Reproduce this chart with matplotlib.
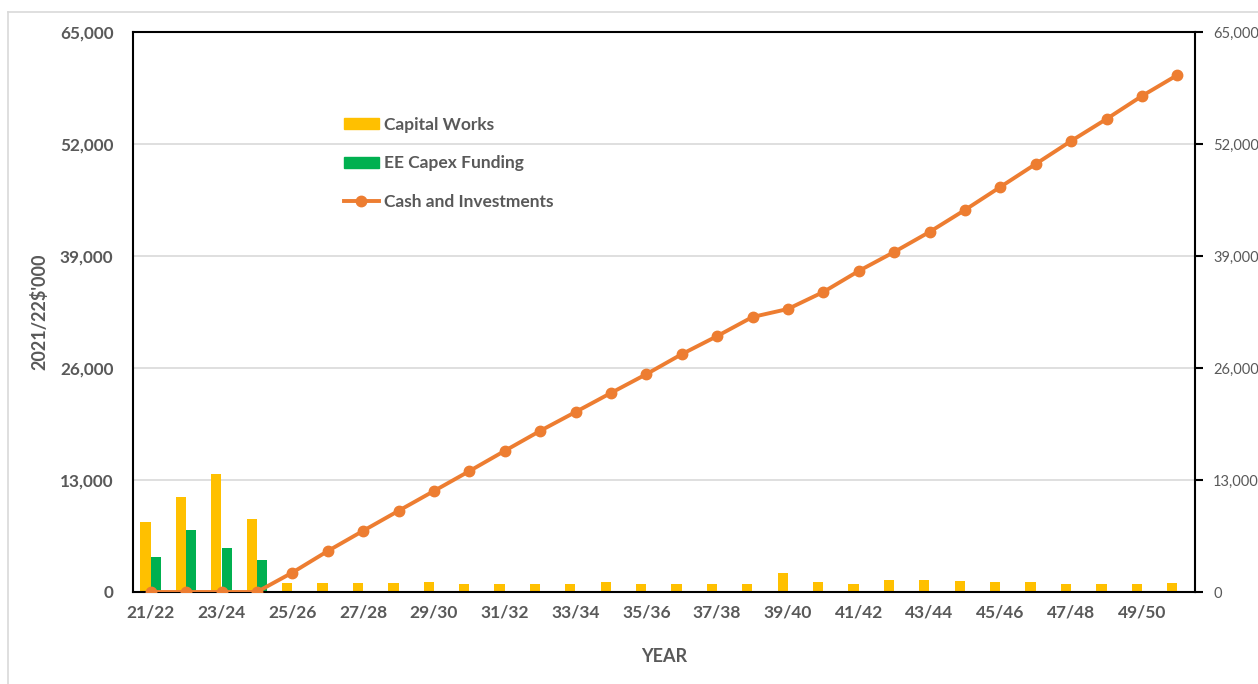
import matplotlib
matplotlib.use("Agg")
import matplotlib.pyplot as plt
from matplotlib.lines import Line2D
import numpy as np

# Financial years 2021/22 to 2050/51
years = [f"{y % 100:02d}/{(y + 1) % 100:02d}" for y in range(2021, 2051)]

capital_works = [8150, 11050, 13700, 8450, 1000, 1000, 1000, 1000, 1150, 950,
                 950, 950, 950, 1150, 950, 950, 950, 950, 2200, 1150,
                 950, 1350, 1350, 1250, 1150, 1150, 950, 950, 950, 1050]
ee_capex = [4100, 7250, 5150, 3700, 0, 0, 0, 0, 0, 0,
            0, 0, 0, 0, 0, 0, 0, 0, 0, 0,
            0, 0, 0, 0, 0, 0, 0, 0, 0, 0]
cash_investments = [0, 0, 0, 0, 2250, 4750, 7100, 9420, 11720, 14030,
                    16380, 18700, 20890, 23100, 25280, 27600, 29700, 31920, 32850, 34820,
                    37260, 39460, 41790, 44340, 47010, 49680, 52350, 54900, 57570, 60000]
y_ticks = [0, 13000, 26000, 39000, 52000, 65000]

YELLOW = "#FFC000"
GREEN = "#00B050"
ORANGE = "#ED7D31"
TEXT = "#595959"

plt.rcParams["font.family"] = ["Lato", "DejaVu Sans"]

fig = plt.figure(figsize=(12.58, 6.84), dpi=100)
ax = fig.add_axes([133 / 1258, 1 - 592 / 684, (1195 - 133) / 1258, (592 - 32) / 684])

x = np.arange(len(years))
w = 0.29
ax.bar(x - w / 2, capital_works, width=w, color=YELLOW, label="Capital Works", zorder=2)
ax.bar(x + w / 2, ee_capex, width=w, color=GREEN, label="EE Capex Funding", zorder=2)
ax.plot(x, cash_investments, color=ORANGE, lw=2.8, marker="o", ms=7.5,
        label="Cash and Investments", zorder=3, solid_capstyle="round")

ax.set_xlim(-0.5, len(years) - 0.5)
ax.set_ylim(0, 65000)
ax.set_yticks(y_ticks)
ax.set_yticklabels([f"{v:,}" for v in y_ticks], fontsize=12.3, fontweight="bold", color=TEXT)
ax.tick_params(axis="y", length=0, pad=14)
ax.set_xticks(x[::2])
ax.set_xticklabels(years[::2], fontsize=12.5, fontweight="bold", color=TEXT)
ax.tick_params(axis="x", length=0, pad=9)
ax.grid(axis="y", color="#D9D9D9", lw=1.2, zorder=0)
ax.set_axisbelow(True)
for s in ax.spines.values():
    s.set_color("black")
    s.set_linewidth(1.5)

ax.set_ylabel("2021/22$'000", fontsize=13, fontweight="bold", color=TEXT, labelpad=8)
ax.set_xlabel("YEAR", fontsize=13, fontweight="bold", color=TEXT, labelpad=20)

# secondary scale on the right
ax2 = ax.twinx()
ax2.set_ylim(0, 65000)
ax2.set_yticks(y_ticks)
ax2.set_yticklabels([f"{v:,}" for v in y_ticks], fontsize=10.5, color=TEXT)
ax2.tick_params(axis="y", direction="out", length=6, width=1.5, pad=7, colors="black",
                labelcolor=TEXT)
for s in ax2.spines.values():
    s.set_visible(False)

handles = [
    plt.Rectangle((0, 0), 1, 1, color=YELLOW),
    plt.Rectangle((0, 0), 1, 1, color=GREEN),
    Line2D([0], [0], color=ORANGE, lw=2.8, marker="o", ms=7.5),
]
labels = ["Capital Works", "EE Capex Funding", "Cash and Investments"]
leg = fig.legend(handles, labels, loc="upper left",
                 bbox_to_anchor=(344 / 1258, 1 - 117 / 684),
                 frameon=False, fontsize=12.5, handlelength=2.0, handleheight=0.6,
                 handletextpad=0.3, labelspacing=1.29, borderpad=0, borderaxespad=0)
for t in leg.get_texts():
    t.set_color(TEXT)
    t.set_fontweight("bold")

# outer chart border
fig.add_artist(Line2D([8 / 1258, 8 / 1258], [0, 1 - 12 / 684], color="#D9D9D9", lw=1.2,
                      transform=fig.transFigure))
fig.add_artist(Line2D([8 / 1258, 1], [1 - 12 / 684, 1 - 12 / 684], color="#D9D9D9", lw=1.2,
                      transform=fig.transFigure))

fig.savefig("out.png", dpi=100)
